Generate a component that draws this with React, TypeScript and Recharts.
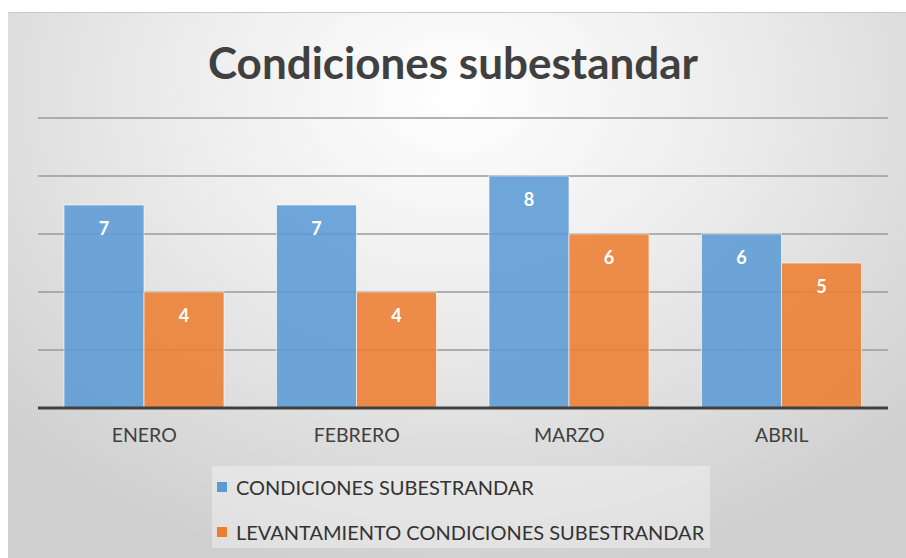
import { Bar, BarChart, CartesianGrid, LabelList, XAxis, YAxis } from "recharts";

const months = ["ENERO", "FEBRERO", "MARZO", "ABRIL"];
const condiciones = [7, 7, 8, 6];
const levantamiento = [4, 4, 6, 5];
const yTicks = [0, 2, 4, 6, 8, 10];

const SERIES = [
  { key: "condiciones", name: "CONDICIONES SUBESTRANDAR", color: "#5b9bd5" },
  { key: "levantamiento", name: "LEVANTAMIENTO CONDICIONES SUBESTRANDAR", color: "#ed7d31" },
];

const data = months.map((m, i) => ({
  month: m,
  condiciones: condiciones[i],
  levantamiento: levantamiento[i],
}));

const FONT = "Lato, 'Open Sans', sans-serif";

function ValueLabel(props: any) {
  const { x, y, width, value } = props;
  return (
    <text
      x={x + width / 2}
      y={y + 23}
      textAnchor="middle"
      dominantBaseline="central"
      fill="#ffffff"
      fontSize={18}
      fontWeight={700}
      fontFamily={FONT}
    >
      {value}
    </text>
  );
}

// legend is drawn as a plain box so it doesn't eat into the plot height
function LegendBox() {
  return (
    <div
      style={{
        position: "absolute",
        left: 212,
        top: 466,
        width: 498,
        height: 82,
        background: "rgba(255,255,255,0.35)",
        boxSizing: "border-box",
        paddingLeft: 5,
        paddingTop: 10,
        fontFamily: FONT,
        fontSize: 20,
        color: "#333",
      }}
    >
      {SERIES.map((s) => (
        <div key={s.key} style={{ display: "flex", alignItems: "center", height: 22, marginBottom: 23 }}>
          <span style={{ width: 10, height: 10, background: s.color, marginRight: 9, display: "inline-block" }} />
          <span>{s.name}</span>
        </div>
      ))}
    </div>
  );
}

export default function App() {
  return (
    <div style={{ position: "fixed", top: 0, left: 0, width: 906, height: 558, background: "#fff" }}>
      <div
        style={{
          position: "absolute",
          left: 8,
          top: 12,
          width: 898,
          height: 546,
          background: "radial-gradient(ellipse 70% 90% at 50% 15%, #ffffff 0%, #ececec 45%, #cfcfcf 100%)",
          borderTop: "1px solid #c8c8c8",
        }}
      />
      <div
        style={{
          position: "absolute",
          left: 0,
          top: 36,
          width: 906,
          textAlign: "center",
          fontFamily: FONT,
          fontWeight: 700,
          fontSize: 44,
          color: "#404040",
        }}
      >
        Condiciones subestandar
      </div>
      <div style={{ position: "absolute", left: 0, top: 0 }}>
        <BarChart
          width={906}
          height={558}
          data={data}
          margin={{ top: 118, right: 18, bottom: 120, left: 38 }}
          barGap={0}
          barSize={80}
        >
          <CartesianGrid vertical={false} stroke="#9a9a9a" strokeWidth={1.5} />
          <YAxis hide domain={[0, 10]} ticks={yTicks} />
          <XAxis
            dataKey="month"
            axisLine={{ stroke: "#404040", strokeWidth: 3 }}
            tickLine={false}
            tick={{ fill: "#404040", fontSize: 19.5, fontFamily: FONT }}
            dy={12}
          />
          {SERIES.map((s) => (
            <Bar
              key={s.key}
              dataKey={s.key}
              name={s.name}
              fill={s.color}
              fillOpacity={0.88}
              stroke="#ffffff"
              strokeOpacity={0.6}
              strokeWidth={1}
              isAnimationActive={false}
            >
              <LabelList dataKey={s.key} content={ValueLabel} />
            </Bar>
          ))}
        </BarChart>
      </div>
      <LegendBox />
    </div>
  );
}
